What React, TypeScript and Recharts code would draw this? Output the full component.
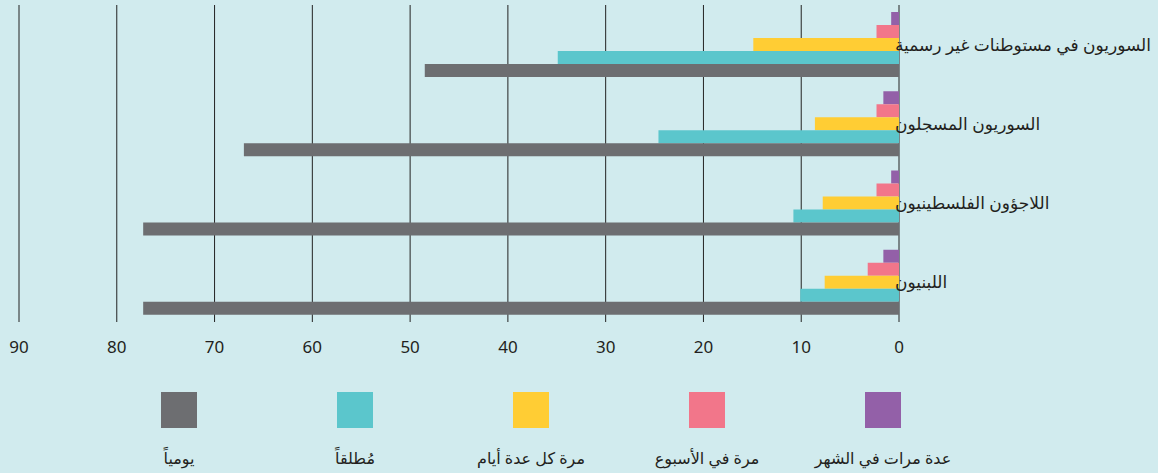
import React from "react";
import {
  BarChart,
  Bar,
  XAxis,
  YAxis,
  CartesianGrid,
  Legend,
} from "recharts";

// ─── Data ──────────────────────────────────────────────────────────────────────

const groups = [
  "السوريون في مستوطنات غير رسمية",
  "السوريون المسجلون",
  "اللاجؤون الفلسطينيون",
  "اللبنيون",
];

const severalTimesMonth = [0.8, 1.6, 0.8, 1.6];
const oncePerWeek = [2.3, 2.3, 2.3, 3.2];
const everyFewDays = [14.9, 8.6, 7.8, 7.6];
const never = [34.9, 24.6, 10.8, 10.1];
const daily = [48.5, 67, 77.3, 77.3];

const xTicks = [0, 10, 20, 30, 40, 50, 60, 70, 80, 90];

const series = [
  { key: "monthly", name: "عدة مرات في الشهر", color: "#9360a8", values: severalTimesMonth },
  { key: "weekly", name: "مرة في الأسبوع", color: "#f2768a", values: oncePerWeek },
  { key: "fewDays", name: "مرة كل عدة أيام", color: "#ffcd34", values: everyFewDays },
  { key: "never", name: "مُطلقاً", color: "#5bc6cc", values: never },
  { key: "daily", name: "يومياً", color: "#6d6e71", values: daily },
];

const data = groups.map((name, i) => {
  const row: Record<string, string | number> = { name };
  series.forEach((s) => {
    row[s.key] = s.values[i];
  });
  return row;
});

const font = "'Noto Sans', 'DejaVu Sans', sans-serif";

// ─── Pieces ────────────────────────────────────────────────────────────────────

const GroupTick = (props: any) => {
  const { x, y, payload } = props;
  return (
    <text
      x={x - 4}
      y={y}
      dy="0.35em"
      textAnchor="start"
      fill="#231f20"
      fontSize={17}
      fontFamily={font}
    >
      {payload.value}
    </text>
  );
};

const LegendBoxes = (props: any) => {
  const items = [...(props.payload || [])].reverse();
  return (
    <div style={{ display: "flex", paddingLeft: 91 }}>
      {items.map((it: any) => (
        <div
          key={it.value}
          style={{
            width: 176,
            display: "flex",
            flexDirection: "column",
            alignItems: "center",
          }}
        >
          <div style={{ width: 36, height: 36, background: it.color }} />
          <div
            style={{
              marginTop: 20,
              fontSize: 16,
              fontFamily: font,
              color: "#231f20",
              lineHeight: "20px",
              direction: "rtl",
            }}
          >
            {it.value}
          </div>
        </div>
      ))}
    </div>
  );
};

// ─── Chart ─────────────────────────────────────────────────────────────────────

export default function App() {
  return (
    <div style={{ width: 1158, height: 473, background: "#d1ebee" }}>
      <style>{"body{margin:0}"}</style>
      <BarChart
        width={1158}
        height={473}
        data={data}
        layout="vertical"
        margin={{ top: 5, right: 0, left: 19, bottom: 111 }}
        barCategoryGap={7}
        barGap={0}
      >
        <CartesianGrid
          horizontal={false}
          stroke="#222"
          strokeWidth={1}
        />
        <XAxis
          type="number"
          domain={[0, 90]}
          ticks={xTicks}
          reversed
          axisLine={false}
          tickLine={false}
          tickMargin={13}
          height={40}
          tick={{ fill: "#231f20", fontSize: 17, fontFamily: font }}
        />
        <YAxis
          type="category"
          dataKey="name"
          orientation="right"
          width={259}
          axisLine={false}
          tickLine={false}
          tickSize={0}
          tickMargin={0}
          tick={<GroupTick />}
          interval={0}
        />
        <Legend
          layout="horizontal"
          verticalAlign="middle"
          align="center"
          wrapperStyle={{ top: 392, left: 0, width: 1158 }}
          content={<LegendBoxes />}
        />
        {series.map((s) => (
          <Bar
            key={s.key}
            dataKey={s.key}
            name={s.name}
            fill={s.color}
            isAnimationActive={false}
          />
        ))}
      </BarChart>
    </div>
  );
}
